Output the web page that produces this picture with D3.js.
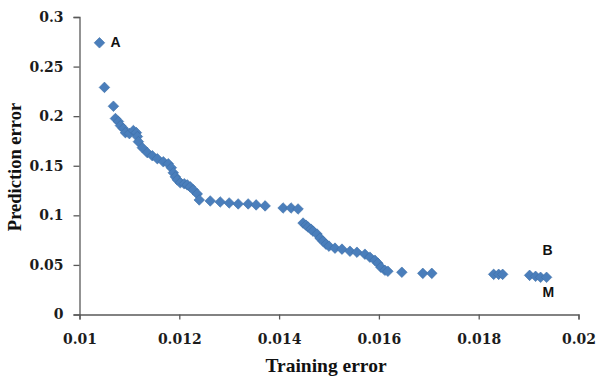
<!DOCTYPE html>
<html>
<head>
<meta charset="utf-8">
<script src="https://cdn.jsdelivr.net/npm/d3@7"></script>
<style>
body { margin: 0; background: #fff; }
svg { display: block; }
</style>
</head>
<body>
<svg id="chart" width="597" height="376"></svg>
<script>
// training error / prediction error pairs
const trainErr = [0.0104, 0.0105, 0.01068, 0.01072, 0.01078, 0.01082, 0.01088, 0.01092, 0.011,
  0.01108, 0.01114, 0.01116, 0.01118, 0.01126, 0.01136, 0.01146, 0.01156, 0.01168, 0.01178,
  0.01184, 0.01188, 0.01192, 0.01196, 0.01202, 0.0121, 0.01216, 0.01222, 0.01228, 0.01236,
  0.0124, 0.01262, 0.01282, 0.013, 0.01318, 0.01338, 0.01354, 0.01372, 0.01408, 0.01424,
  0.01438, 0.01448, 0.01454, 0.01458, 0.01464, 0.01468, 0.01476, 0.01482, 0.01488, 0.01494,
  0.015, 0.01512, 0.01526, 0.01542, 0.01556, 0.01572, 0.01582, 0.01592, 0.01598, 0.01604,
  0.01612, 0.01618, 0.01646, 0.01688, 0.01706, 0.0183, 0.0184, 0.01848, 0.01902, 0.01914,
  0.01924, 0.01936];
const predErr = [0.274, 0.229, 0.210, 0.1976, 0.1946, 0.1905, 0.1875, 0.1834, 0.1824,
  0.1855, 0.1834, 0.1794, 0.1743, 0.1682, 0.1632, 0.1601, 0.1571, 0.154, 0.152,
  0.148, 0.1429, 0.1388, 0.1358, 0.1328, 0.1318, 0.1307, 0.1287, 0.1257, 0.1216,
  0.1155, 0.1145, 0.1135, 0.1125, 0.1115, 0.1115, 0.1105, 0.1095, 0.1074, 0.1074,
  0.1064, 0.0922, 0.090, 0.0882, 0.086, 0.0841, 0.0811, 0.077, 0.074, 0.0709,
  0.0689, 0.0669, 0.0659, 0.0638, 0.0628, 0.0608, 0.0578, 0.0547, 0.0517, 0.0476,
  0.0446, 0.0436, 0.0426, 0.0415, 0.0415, 0.0405, 0.0405, 0.0405, 0.0395, 0.0385,
  0.0375, 0.0375];
const xTicks = [0.01, 0.012, 0.014, 0.016, 0.018, 0.02];
const xTickLabels = ["0.01", "0.012", "0.014", "0.016", "0.018", "0.02"];
const yTicks = [0, 0.05, 0.1, 0.15, 0.2, 0.25, 0.3];
const yTickLabels = ["0", "0.05", "0.1", "0.15", "0.2", "0.25", "0.3"];
const pointLabels = ["A", "B", "M"];
const labelIndex = [0, 70, 70];

const data = trainErr.map((d, i) => ({x: d, y: predErr[i]}));

const svg = d3.select("#chart");
const xScale = d3.scaleLinear().domain([0.01, 0.02]).range([79.5, 578.5]);
const yScale = d3.scaleLinear().domain([0, 0.3]).range([314.5, 17]);

const tickFont = "'DejaVu Serif', serif";
const titleFont = "'Liberation Serif', 'Times New Roman', serif";

// axes
const xAxis = d3.axisBottom(xScale).tickValues(xTicks)
  .tickFormat((d, i) => xTickLabels[i]).tickSizeOuter(0).tickSize(5);
const yAxis = d3.axisLeft(yScale).tickValues(yTicks)
  .tickFormat((d, i) => yTickLabels[i]).tickSizeOuter(0).tickSize(6);

const gx = svg.append("g").attr("transform", "translate(0,314.5)").call(xAxis);
const gy = svg.append("g").attr("transform", "translate(79.5,0)").call(yAxis);

[gx, gy].forEach(g => {
  g.select(".domain").attr("stroke", "#595959").attr("stroke-width", 1.3);
  g.selectAll(".tick line").attr("stroke", "#595959").attr("stroke-width", 1.3);
  g.selectAll(".tick text")
    .style("font-family", tickFont)
    .style("font-size", "14px")
    .style("font-weight", "bold")
    .attr("fill", "#1c1c1c");
});
gx.selectAll(".tick text").attr("y", 29).attr("dy", 0);
gy.selectAll(".tick text").attr("x", -16);

// axis titles
svg.append("text")
  .attr("x", 326).attr("y", 372)
  .attr("text-anchor", "middle")
  .style("font-family", titleFont)
  .style("font-size", "19.5px").style("font-weight", "bold")
  .attr("fill", "#111")
  .text("Training error");

svg.append("text")
  .attr("transform", "translate(21,167) rotate(-90)")
  .attr("text-anchor", "middle")
  .style("font-family", titleFont)
  .style("font-size", "18.5px").style("font-weight", "bold")
  .attr("fill", "#111")
  .text("Prediction error");

// diamond markers
svg.append("g").selectAll("path")
  .data(data)
  .join("path")
  .attr("transform", d => `translate(${xScale(d.x)},${yScale(d.y)})`)
  .attr("d", "M0,-5.3L5.3,0L0,5.3L-5.3,0Z")
  .attr("fill", "#4a7ebb")
  .attr("stroke", "#3d6fa8")
  .attr("stroke-width", 0.6);

// point labels
const labelOffset = {A: [11, 4], B: [-4, -22], M: [-4, 20]};
svg.append("g").selectAll("text")
  .data(pointLabels)
  .join("text")
  .attr("x", (d, i) => xScale(data[labelIndex[i]].x) + labelOffset[d][0])
  .attr("y", (d, i) => yScale(data[labelIndex[i]].y) + labelOffset[d][1])
  .style("font-family", "'Liberation Sans', Arial, sans-serif")
  .style("font-size", "14px").style("font-weight", "bold")
  .attr("fill", "#111")
  .text(d => d);
</script>
</body>
</html>
